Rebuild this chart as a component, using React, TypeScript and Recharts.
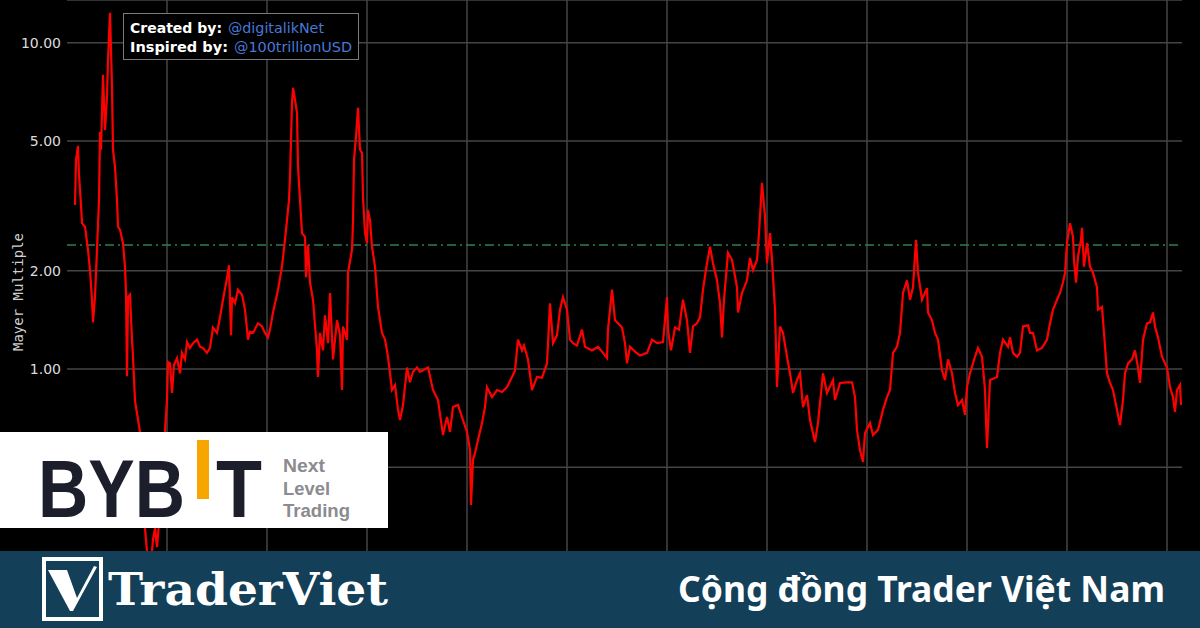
import React from 'react';
import { LineChart, Line, XAxis, YAxis, CartesianGrid, ReferenceLine } from 'recharts';

// decimal year of each reading
const years = [
  2011.08, 2011.09, 2011.11, 2011.12, 2011.14, 2011.15, 2011.18, 2011.21, 2011.23, 2011.25,
  2011.26, 2011.28, 2011.30, 2011.32, 2011.33, 2011.34, 2011.36, 2011.38, 2011.40, 2011.41,
  2011.43, 2011.44, 2011.45, 2011.46, 2011.48, 2011.50, 2011.51, 2011.53, 2011.56, 2011.58,
  2011.59, 2011.60, 2011.61, 2011.63, 2011.65, 2011.66, 2011.68, 2011.71, 2011.73, 2011.75,
  2011.78, 2011.80, 2011.83, 2011.86, 2011.88, 2011.90, 2011.93, 2011.96, 2011.98, 2012.00,
  2012.01, 2012.03, 2012.05, 2012.07, 2012.10, 2012.13, 2012.15, 2012.18, 2012.20, 2012.23,
  2012.26, 2012.30, 2012.33, 2012.36, 2012.40, 2012.43, 2012.46, 2012.50, 2012.53, 2012.56,
  2012.60, 2012.62, 2012.64, 2012.65, 2012.68, 2012.71, 2012.75, 2012.78, 2012.81, 2012.83,
  2012.86, 2012.91, 2012.95, 2012.98, 2013.01, 2013.03, 2013.06, 2013.11, 2013.15, 2013.18,
  2013.20, 2013.22, 2013.23, 2013.25, 2013.26, 2013.28, 2013.30, 2013.31, 2013.33, 2013.35,
  2013.38, 2013.39, 2013.41, 2013.43, 2013.46, 2013.50, 2013.51, 2013.53, 2013.56, 2013.58,
  2013.61, 2013.63, 2013.66, 2013.70, 2013.73, 2013.75, 2013.76, 2013.80, 2013.81, 2013.85,
  2013.86, 2013.87, 2013.89, 2013.91, 2013.93, 2013.95, 2013.96, 2013.98, 2014.00, 2014.01,
  2014.03, 2014.05, 2014.08, 2014.11, 2014.15, 2014.18, 2014.21, 2014.25, 2014.28, 2014.31,
  2014.33, 2014.36, 2014.40, 2014.43, 2014.46, 2014.50, 2014.53, 2014.56, 2014.61, 2014.66,
  2014.71, 2014.76, 2014.80, 2014.83, 2014.86, 2014.91, 2014.96, 2015.00, 2015.03, 2015.04,
  2015.06, 2015.08, 2015.11, 2015.15, 2015.18, 2015.20, 2015.25, 2015.30, 2015.35, 2015.40,
  2015.45, 2015.48, 2015.51, 2015.55, 2015.57, 2015.61, 2015.65, 2015.70, 2015.75, 2015.80,
  2015.83, 2015.86, 2015.90, 2015.93, 2015.96, 2016.00, 2016.03, 2016.06, 2016.10, 2016.15,
  2016.18, 2016.25, 2016.31, 2016.35, 2016.40, 2016.41, 2016.45, 2016.48, 2016.51, 2016.55,
  2016.58, 2016.60, 2016.63, 2016.68, 2016.73, 2016.80, 2016.85, 2016.90, 2016.96, 2017.00,
  2017.01, 2017.04, 2017.08, 2017.12, 2017.16, 2017.20, 2017.23, 2017.26, 2017.30, 2017.33,
  2017.36, 2017.40, 2017.43, 2017.46, 2017.50, 2017.53, 2017.55, 2017.57, 2017.61, 2017.65,
  2017.70, 2017.71, 2017.75, 2017.80, 2017.83, 2017.86, 2017.90, 2017.92, 2017.95, 2017.98,
  2018.00, 2018.03, 2018.05, 2018.08, 2018.10, 2018.13, 2018.16, 2018.20, 2018.23, 2018.26,
  2018.30, 2018.33, 2018.36, 2018.40, 2018.43, 2018.48, 2018.51, 2018.56, 2018.60, 2018.66,
  2018.68, 2018.73, 2018.80, 2018.85, 2018.88, 2018.90, 2018.93, 2018.96, 2018.98, 2019.03,
  2019.06, 2019.11, 2019.16, 2019.20, 2019.23, 2019.26, 2019.30, 2019.33, 2019.36, 2019.40,
  2019.43, 2019.46, 2019.49, 2019.51, 2019.55, 2019.60, 2019.61, 2019.65, 2019.68, 2019.71,
  2019.75, 2019.78, 2019.81, 2019.85, 2019.88, 2019.91, 2019.95, 2019.98, 2020.00, 2020.03,
  2020.08, 2020.11, 2020.15, 2020.18, 2020.20, 2020.23, 2020.30, 2020.33, 2020.36, 2020.41,
  2020.43, 2020.46, 2020.50, 2020.53, 2020.56, 2020.61, 2020.63, 2020.66, 2020.70, 2020.75,
  2020.80, 2020.83, 2020.86, 2020.90, 2020.93, 2020.96, 2020.98, 2021.00, 2021.03, 2021.06,
  2021.07, 2021.09, 2021.11, 2021.14, 2021.15, 2021.17, 2021.20, 2021.23, 2021.26, 2021.30,
  2021.31, 2021.35, 2021.37, 2021.40, 2021.43, 2021.46, 2021.50, 2021.53, 2021.56, 2021.58,
  2021.61, 2021.65, 2021.68, 2021.71, 2021.73, 2021.76, 2021.80, 2021.83, 2021.86, 2021.88,
  2021.91, 2021.95, 2021.98, 2022.00, 2022.03, 2022.06, 2022.08, 2022.10, 2022.13, 2022.14,
];

// Mayer Multiple readings
const mayer = [
  3.18, 4.38, 4.83, 3.94, 3.18, 2.80, 2.73, 2.32, 2.01, 1.63,
  1.39, 1.67, 2.32, 3.30, 5.33, 4.70, 7.98, 5.41, 6.83, 8.87,
  12.36, 9.52, 7.33, 4.70, 4.17, 3.30, 2.73, 2.67, 2.43, 2.06,
  1.71, 0.95, 1.66, 1.69, 1.23, 1.09, 0.80, 0.70, 0.64, 0.46,
  0.325, 0.276, 0.233, 0.30, 0.325, 0.284, 0.369, 0.526, 0.65, 0.80,
  1.05, 1.04, 0.844, 1.03, 1.08, 0.97, 1.12, 1.07, 1.21, 1.16,
  1.20, 1.23, 1.17, 1.16, 1.12, 1.16, 1.34, 1.29, 1.44, 1.63,
  1.90, 2.08, 1.27, 1.66, 1.59, 1.75, 1.69, 1.52, 1.23, 1.30,
  1.29, 1.38, 1.35, 1.29, 1.25, 1.32, 1.49, 1.75, 2.06, 2.49,
  2.86, 3.30, 3.88, 6.55, 7.28, 6.69, 6.10, 4.17, 3.30, 2.61,
  2.54, 1.91, 2.40, 1.84, 1.63, 1.14, 0.945, 1.29, 1.14, 1.46,
  1.20, 1.71, 1.07, 1.41, 1.27, 0.862, 1.35, 1.23, 1.97, 2.32,
  2.80, 4.38, 5.15, 6.32, 4.70, 4.60, 3.37, 2.61, 2.43, 3.07,
  2.86, 2.37, 2.06, 1.55, 1.29, 1.23, 1.09, 0.862, 0.893, 0.749,
  0.697, 0.775, 1.01, 0.91, 0.98, 1.01, 0.98, 0.99, 1.01, 0.862,
  0.803, 0.627, 0.712, 0.641, 0.764, 0.775, 0.697, 0.641, 0.564, 0.383,
  0.526, 0.552, 0.606, 0.683, 0.764, 0.88, 0.82, 0.862, 0.85, 0.88,
  0.945, 0.99, 1.23, 1.14, 1.18, 1.07, 0.862, 0.945, 0.94, 1.04,
  1.59, 1.20, 1.27, 1.52, 1.66, 1.52, 1.23, 1.20, 1.18, 1.32,
  1.17, 1.14, 1.17, 1.13, 1.08, 1.32, 1.75, 1.41, 1.38, 1.34,
  1.20, 1.04, 1.17, 1.13, 1.10, 1.12, 1.23, 1.20, 1.21, 1.66,
  1.32, 1.14, 1.34, 1.32, 1.63, 1.41, 1.12, 1.35, 1.38, 1.44,
  1.75, 2.11, 2.37, 2.11, 1.87, 1.59, 1.25, 1.63, 2.27, 2.16,
  1.78, 1.49, 1.71, 1.87, 2.19, 2.01, 2.16, 2.61, 3.72, 2.93,
  2.11, 2.61, 2.16, 1.52, 0.88, 1.35, 1.29, 1.09, 0.97, 0.844,
  0.925, 0.97, 0.764, 0.832, 0.697, 0.597, 0.683, 0.97, 0.844, 0.925,
  0.803, 0.906, 0.91, 0.91, 0.82, 0.65, 0.564, 0.519, 0.636, 0.683,
  0.627, 0.65, 0.749, 0.82, 0.862, 1.12, 1.17, 1.29, 1.71, 1.87,
  1.63, 1.78, 2.49, 1.97, 1.63, 1.77, 1.49, 1.41, 1.29, 1.23,
  0.99, 0.925, 1.07, 0.97, 0.844, 0.775, 0.803, 0.723, 0.88, 0.97,
  1.09, 1.16, 1.09, 0.862, 0.572, 0.925, 0.945, 1.12, 1.23, 1.17,
  1.25, 1.12, 1.09, 1.12, 1.35, 1.36, 1.29, 1.29, 1.14, 1.16,
  1.23, 1.38, 1.52, 1.63, 1.71, 1.84, 1.97, 2.43, 2.80, 2.54,
  2.16, 1.84, 2.21, 2.49, 2.71, 2.06, 2.43, 2.06, 1.97, 1.78,
  1.52, 1.55, 1.29, 0.97, 0.906, 0.862, 0.749, 0.673, 0.803, 0.97,
  1.04, 1.07, 1.14, 1.01, 0.906, 1.23, 1.38, 1.39, 1.49, 1.35,
  1.25, 1.09, 1.04, 1.01, 0.88, 0.82, 0.738, 0.862, 0.893, 0.775,
];

const yearTicks = [2012, 2013, 2014, 2015, 2016, 2017, 2018, 2019, 2020, 2021, 2022];
const valueTicks = [0.5, 1, 2, 5, 10];
// labels that are visible (0.50 sits behind the sponsor badge)
const labelledTicks = [1, 2, 5, 10];
const threshold = 2.4;
const xDomain: [number, number] = [2011, 2022.15];
const yDomain: [number, number] = [0.1957, 13.53];

const data = years.map((t, i) => ({ t, v: mayer[i] }));

const YTick = (props: any) => {
  const { x, y, payload } = props;
  if (!labelledTicks.includes(Number(payload.value))) return <g />;
  return (
    <text
      x={x}
      y={y}
      dy={5}
      textAnchor="end"
      fill="#dcdcdc"
      fontSize={14}
      fontFamily="'DejaVu Sans', Verdana, sans-serif"
    >
      {Number(payload.value).toFixed(2)}
    </text>
  );
};

export default function App() {
  return (
    <div
      style={{
        position: 'fixed',
        left: 0,
        top: 0,
        width: 1200,
        height: 628,
        background: '#000',
        overflow: 'hidden',
      }}
    >
      <div style={{ position: 'absolute', left: 0, top: 0 }}>
        <LineChart
          width={1200}
          height={628}
          data={data}
          margin={{ top: 0, right: 18, bottom: 28, left: 0 }}
        >
          <CartesianGrid vertical={false} stroke="#454545" strokeWidth={1.5} />
          <XAxis
            type="number"
            dataKey="t"
            domain={xDomain}
            allowDataOverflow
            hide
          />
          <YAxis
            type="number"
            scale="log"
            domain={yDomain}
            allowDataOverflow
            ticks={valueTicks}
            width={67}
            axisLine={false}
            tickLine={false}
            tickSize={6}
            tickMargin={0}
            tick={<YTick />}
            interval={0}
          />
          {yearTicks.map((yr) => (
            <ReferenceLine key={yr} x={yr} stroke="#454545" strokeWidth={1.5} />
          ))}
          <ReferenceLine
            y={threshold}
            stroke="#2e8050"
            strokeWidth={1.5}
            strokeDasharray="9 4 2 4"
          />
          <Line
            type="linear"
            dataKey="v"
            stroke="#ff0000"
            strokeWidth={2.2}
            dot={false}
            isAnimationActive={false}
          />
        </LineChart>
      </div>
      <svg
        width={1200}
        height={628}
        style={{ position: 'absolute', left: 0, top: 0, pointerEvents: 'none' }}
      >
        {/* axis title */}
        <text
          transform="translate(23,292) rotate(-90)"
          textAnchor="middle"
          fill="#cfcfcf"
          fontSize={14}
          fontFamily="'DejaVu Sans Mono', monospace"
        >
          Mayer Multiple
        </text>

        {/* credits box */}
        <rect x={123.5} y={13.5} width={235} height={46} fill="#000" stroke="#7a7a7a" strokeWidth={1} />
        <text x={130} y={33} fill="#fff" fontWeight={700} fontSize={14} fontFamily="'DejaVu Sans', sans-serif" textLength={92} lengthAdjust="spacingAndGlyphs">
          Created by:
        </text>
        <text x={228} y={33} fill="#4878d8" fontSize={14} fontFamily="'DejaVu Sans', sans-serif" textLength={96} lengthAdjust="spacingAndGlyphs">
          @digitalikNet
        </text>
        <text x={130} y={52} fill="#fff" fontWeight={700} fontSize={14} fontFamily="'DejaVu Sans', sans-serif" textLength={98} lengthAdjust="spacingAndGlyphs">
          Inspired by:
        </text>
        <text x={234} y={52} fill="#4878d8" fontSize={14} fontFamily="'DejaVu Sans', sans-serif" textLength={118} lengthAdjust="spacingAndGlyphs">
          @100trillionUSD
        </text>

        {/* BYBIT badge */}
        <rect x={0} y={432} width={388} height={96} fill="#ffffff" />
        <text x={38} y={517} fill="#1d1e2c" fontWeight={700} fontSize={82} fontFamily="'Liberation Sans', Arial, sans-serif" textLength={147} lengthAdjust="spacingAndGlyphs">
          BYB
        </text>
        <rect x={197} y={440} width={12} height={59} fill="#f7a600" />
        <text x={216} y={517} fill="#1d1e2c" fontWeight={700} fontSize={82} fontFamily="'Liberation Sans', Arial, sans-serif" textLength={46} lengthAdjust="spacingAndGlyphs">
          T
        </text>
        <text x={283} y={472} fill="#8b8b90" fontWeight={700} fontSize={18} fontFamily="'Liberation Sans', Arial, sans-serif" textLength={42} lengthAdjust="spacingAndGlyphs">
          Next
        </text>
        <text x={283} y={495} fill="#8b8b90" fontWeight={700} fontSize={18} fontFamily="'Liberation Sans', Arial, sans-serif" textLength={47} lengthAdjust="spacingAndGlyphs">
          Level
        </text>
        <text x={283} y={517} fill="#8b8b90" fontWeight={700} fontSize={18} fontFamily="'Liberation Sans', Arial, sans-serif" textLength={67} lengthAdjust="spacingAndGlyphs">
          Trading
        </text>

        {/* bottom banner */}
        <rect x={0} y={551} width={1200} height={77} fill="#133f59" />
        <rect x={44} y={559} width={57} height={60} fill="none" stroke="#ffffff" strokeWidth={4} />
        <polygon points="48,570 67,570 77,598 94,566 97,567 73,611 70,611" fill="#ffffff" />
        <text x={108} y={605} fill="#ffffff" fontWeight={700} fontSize={44} fontFamily="'DejaVu Serif', serif" textLength={280} lengthAdjust="spacingAndGlyphs">
          TraderViet
        </text>
        <text x={678} y={602} fill="#ffffff" fontWeight={700} fontSize={36} fontFamily="'Noto Sans', sans-serif" textLength={487} lengthAdjust="spacingAndGlyphs">
          Cộng đồng Trader Việt Nam
        </text>
      </svg>
    </div>
  );
}
